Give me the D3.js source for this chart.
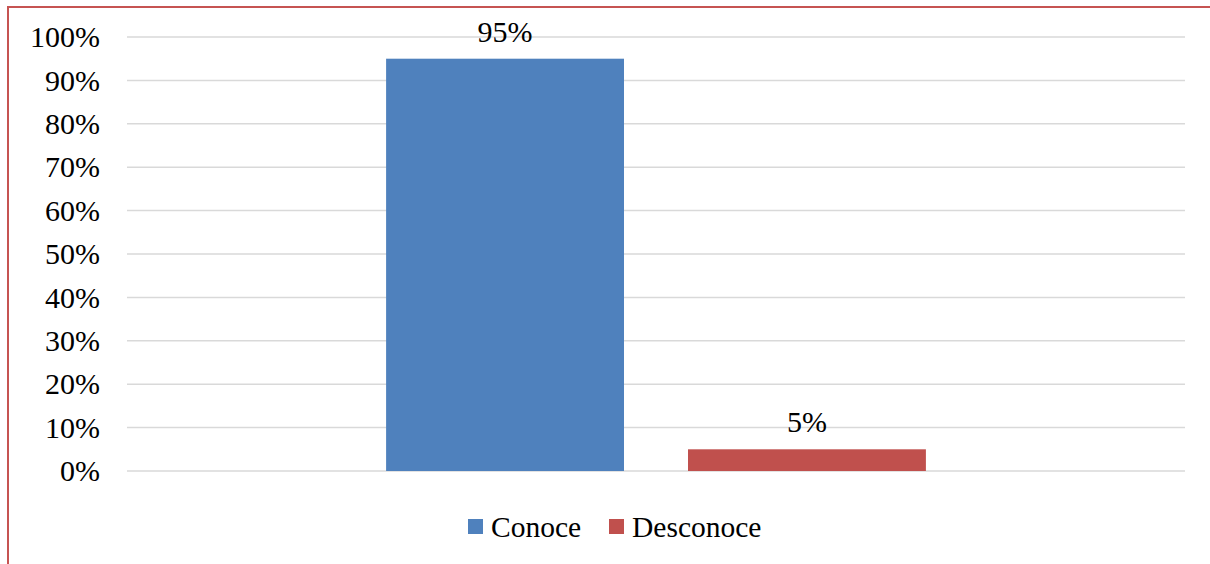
<!DOCTYPE html>
<html>
<head>
<meta charset="utf-8">
<script src="https://cdn.jsdelivr.net/npm/d3@7"></script>
<style>
  html, body { margin: 0; padding: 0; background: #fff; }
  svg { display: block; }
  text { font-family: "Liberation Serif", "DejaVu Serif", serif; fill: #000; }
</style>
</head>
<body>
<svg id="chart" width="1210" height="564"></svg>
<script>
// Data
const categories = ["Respuesta"];
const seriesNames = ["Conoce", "Desconoce"];
const seriesValues = [0.95, 0.05];
const seriesColors = ["#4F81BD", "#C0504D"];
const tickValues = [0, 0.1, 0.2, 0.3, 0.4, 0.5, 0.6, 0.7, 0.8, 0.9, 1.0];

const W = 1210, H = 564;
const margin = { left: 127, right: 25, top: 37, bottom: 93 };
const plotW = W - margin.left - margin.right;
const plotH = H - margin.top - margin.bottom;

const svg = d3.select("#chart");

// Chart area frame
svg.append("rect")
  .attr("x", 8).attr("y", 7)
  .attr("width", W + 10).attr("height", H + 10)
  .attr("fill", "none")
  .attr("stroke", "#C65452")
  .attr("stroke-width", 2);

const g = svg.append("g").attr("transform", `translate(${margin.left},${margin.top})`);

const y = d3.scaleLinear().domain([0, 1]).range([plotH, 0]);
const x0 = d3.scaleBand().domain(categories).range([0, plotW]).paddingInner(0).paddingOuter(0.48);
const x1 = d3.scaleBand().domain(seriesNames).range([0, x0.bandwidth()]).paddingInner(0.212).paddingOuter(0);

// Gridlines
g.append("g")
  .selectAll("line")
  .data(tickValues)
  .join("line")
  .attr("x1", 0).attr("x2", plotW)
  .attr("y1", d => y(d)).attr("y2", d => y(d))
  .attr("stroke", "#D9D9D9")
  .attr("stroke-width", 1.5);

// Y axis labels
const yAxis = d3.axisLeft(y)
  .tickValues(tickValues)
  .tickFormat(d3.format(".0%"))
  .tickSize(0)
  .tickPadding(27);
const ya = g.append("g").call(yAxis);
ya.select(".domain").remove();
ya.selectAll("text")
  .style("font-family", '"Liberation Serif", "DejaVu Serif", serif')
  .style("font-size", "30px")
  .attr("fill", "#000");

// Bars
const rows = seriesNames.map((s, i) => ({ cat: categories[0], name: s, value: seriesValues[i], color: seriesColors[i] }));
const grp = g.append("g");
grp.selectAll("rect")
  .data(rows)
  .join("rect")
  .attr("x", d => x0(d.cat) + x1(d.name))
  .attr("y", d => y(d.value))
  .attr("width", x1.bandwidth())
  .attr("height", d => y(0) - y(d.value))
  .attr("fill", d => d.color);

// Value labels
grp.selectAll("text")
  .data(rows)
  .join("text")
  .attr("x", d => x0(d.cat) + x1(d.name) + x1.bandwidth() / 2)
  .attr("y", d => y(d.value) - 17)
  .attr("text-anchor", "middle")
  .style("font-size", "30px")
  .text(d => d3.format(".0%")(d.value));

// Legend
const legendItems = [
  { name: seriesNames[0], color: seriesColors[0], x: 468 },
  { name: seriesNames[1], color: seriesColors[1], x: 609 }
];
const lg = svg.append("g");
lg.selectAll("rect")
  .data(legendItems)
  .join("rect")
  .attr("x", d => d.x).attr("y", 519)
  .attr("width", 15).attr("height", 15)
  .attr("fill", d => d.color);
lg.selectAll("text")
  .data(legendItems)
  .join("text")
  .attr("x", d => d.x + 23).attr("y", 537)
  .style("font-size", "29.5px")
  .text(d => d.name);
</script>
</body>
</html>
